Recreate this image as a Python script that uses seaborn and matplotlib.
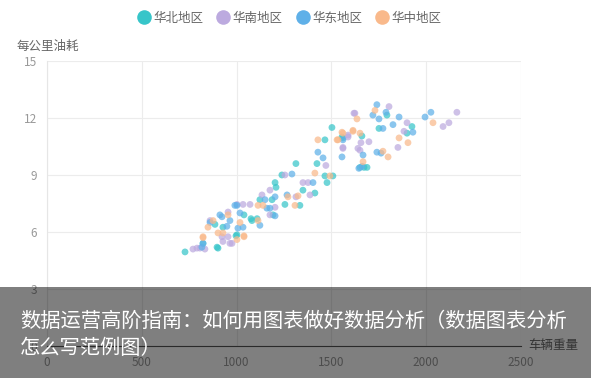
import pandas as pd
import seaborn as sns
import matplotlib.pyplot as plt
from matplotlib.patches import Rectangle

# data (vehicle weight, fuel per km)
north_w = [728, 823, 902, 886, 928, 997, 1039, 1076, 1108, 1123, 1187, 1192, 1208, 1203, 1239,
           1313, 1255, 1334, 1350, 1413, 1424, 1466, 1466, 1477, 1508, 1503, 1556, 1793, 1925,
           1899, 1751, 1661, 1561, 1651, 1672, 1688, 1081, 1002, 897]
north_c = [4.95, 5.4, 5.15, 6.4, 6.25, 5.8, 6.9, 6.7, 6.7, 7.7, 7.7, 6.9, 8.35, 8.6, 9.0,
           9.6, 7.45, 7.4, 8.2, 8.05, 9.6, 10.85, 8.95, 8.6, 8.95, 11.5, 11.0, 12.15, 11.55,
           11.2, 11.45, 11.05, 10.95, 9.4, 9.4, 9.4, 6.6, 5.85, 5.2]

south_w = [770, 791, 833, 923, 928, 955, 976, 1034, 1071, 1134, 1176, 1203, 1176, 1255, 1313,
           1350, 1377, 1387, 1471, 1561, 1588, 1624, 1640, 1804, 1619, 2162, 2089, 2120, 1899,
           1883, 1851, 1588, 1698, 1656, 1561, 1651, 860, 955, 1002, 965, 807]
south_c = [5.1, 5.15, 5.1, 5.75, 5.5, 5.75, 5.4, 7.45, 7.45, 7.95, 8.2, 7.3, 6.9, 9.0, 7.85,
           8.6, 8.6, 7.95, 9.5, 10.4, 11.1, 12.25, 10.4, 12.6, 12.25, 12.3, 11.55, 11.75, 11.75,
           11.3, 10.45, 11.0, 10.75, 10.7, 10.45, 10.3, 6.6, 7.05, 7.45, 5.4, 5.15]

east_w = [817, 860, 923, 949, 965, 1007, 1034, 1002, 1018, 1123, 1150, 1160, 1176, 1203, 1203,
          1292, 1266, 1403, 1429, 1456, 1561, 1556, 1645, 1740, 1788, 1719, 1751, 1857, 1994,
          2025, 1825, 1930, 1772, 1740, 1762, 1667, 1662, 823, 912, 991]
east_c = [5.2, 6.5, 6.8, 6.3, 6.6, 6.2, 6.25, 7.4, 7.0, 6.35, 7.7, 7.25, 7.25, 7.85, 6.85,
          9.05, 7.95, 8.6, 10.2, 9.9, 10.85, 9.95, 9.35, 12.7, 12.3, 12.15, 11.95, 12.05, 12.05,
          12.3, 11.65, 11.25, 11.45, 10.2, 10.15, 10.05, 9.45, 5.4, 6.9, 7.4]

central_w = [823, 849, 876, 955, 902, 1002, 1018, 1039, 1113, 1139, 1271, 1308, 1324, 1413, 1429,
             1492, 1530, 1556, 1614, 1730, 1635, 2036, 1857, 1904, 1561, 1614, 1651, 1535, 1772,
             1799, 1667, 928, 1039, 1113, 823]
central_c = [5.7, 6.25, 6.6, 6.9, 5.95, 5.6, 6.5, 5.75, 6.6, 7.4, 7.85, 7.4, 7.9, 9.1, 10.85,
             8.95, 10.85, 11.25, 11.35, 12.4, 11.95, 11.75, 10.95, 10.7, 11.2, 11.3, 11.2, 10.85, 10.25,
             9.95, 9.7, 5.95, 5.8, 7.4, 5.75]

regions = ["华北地区", "华南地区", "华东地区", "华中地区"]
colors = ["#37c5c9", "#bcaadf", "#5fb0e8", "#f9b98b"]

rows = []
for name, ws, cs in zip(regions, [north_w, south_w, east_w, central_w],
                        [north_c, south_c, east_c, central_c]):
    for w, c in zip(ws, cs):
        rows.append({"车辆重量": w, "每公里油耗": c, "地区": name})
df = pd.DataFrame(rows)

sns.set_style("white")
plt.rcParams["font.family"] = ["Noto Sans CJK SC", "DejaVu Sans"]

fig = plt.figure(figsize=(5.91, 3.78), dpi=100)
ax = fig.add_axes([0.0795, 0.0847, 0.802, 0.754])

sns.scatterplot(data=df, x="车辆重量", y="每公里油耗", hue="地区", hue_order=regions,
                palette=colors, s=24, alpha=0.72, edgecolor="none", ax=ax, legend=False)

ax.set_xlim(0, 2500)
ax.set_ylim(0, 15)
ax.set_xticks([0, 500, 1000, 1500, 2000, 2500])
ax.set_yticks([0, 3, 6, 9, 12, 15])
ax.grid(True, color="#ececec", linewidth=0.8)
ax.set_axisbelow(True)
for side in ["top", "right"]:
    ax.spines[side].set_visible(False)
ax.spines["left"].set_color("#e6e6e6")
ax.spines["bottom"].set_color("#555555")
ax.tick_params(length=0, labelsize=8.5, colors="#999999", pad=7)
ax.set_xlabel("")
ax.set_ylabel("")

fig.text(0.028, 0.878, "每公里油耗", fontsize=9, color="#666666", va="center")
fig.text(0.893, 0.085, "车辆重量", fontsize=9, color="#666666", va="center")

handles = [plt.Line2D([], [], marker="o", linestyle="", markersize=10.5,
                      markerfacecolor=c, markeredgecolor="none") for c in colors]
fig.legend(handles, regions, loc="center", bbox_to_anchor=(0.49, 0.952), ncol=4,
           frameon=False, fontsize=9, handletextpad=0.25, columnspacing=1.1,
           labelcolor="#666666", handlelength=1.0)

# overlay banner
fig.add_artist(Rectangle((0, 0), 1, 0.24, transform=fig.transFigure,
                         facecolor="#000000", alpha=0.5, edgecolor="none", zorder=10))
fig.text(0.034, 0.149, "数据运营高阶指南：如何用图表做好数据分析（数据图表分析",
         fontsize=14.6, color="white", va="center", zorder=11)
fig.text(0.034, 0.077, "怎么写范例图）", fontsize=14.6, color="white", va="center", zorder=11)

fig.savefig("out.png", dpi=100)
